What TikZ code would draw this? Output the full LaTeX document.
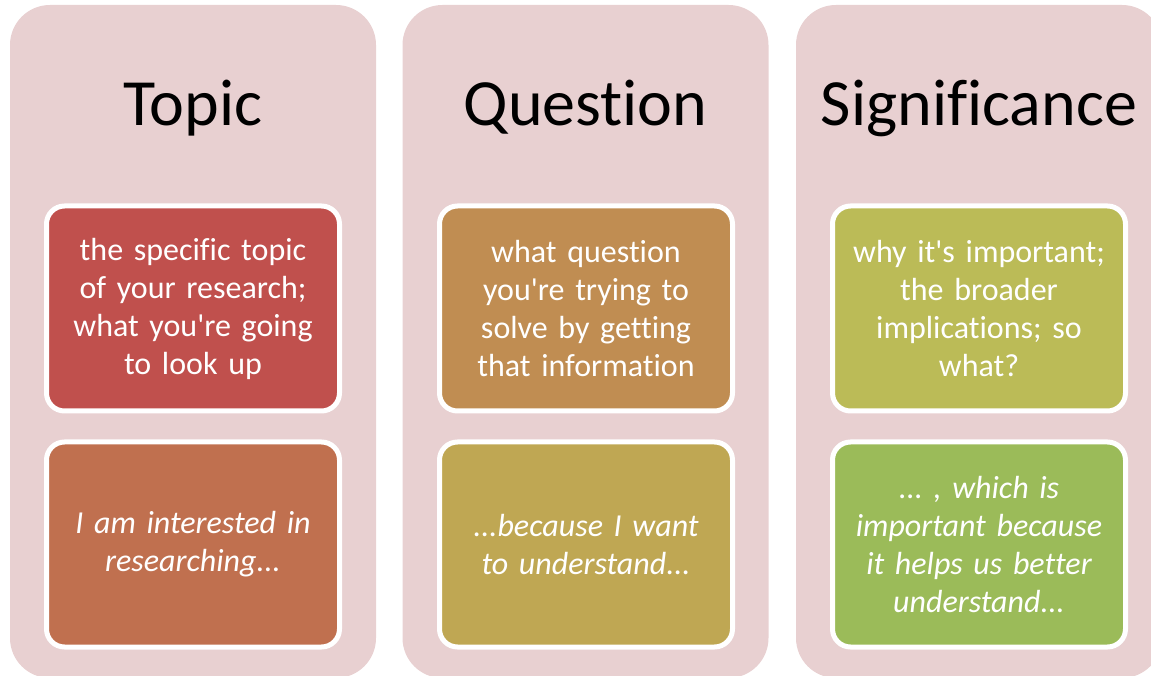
\documentclass[tikz,border=0pt]{standalone}
\usepackage{fontspec}
\setmainfont{Carlito}[Ligatures={TeXOff,NoCommon},Contextuals=NoAlternate]
\usetikzlibrary{positioning}
\frenchspacing
\definecolor{panepink}{HTML}{E8D0D1}
\definecolor{topicred}{HTML}{C0504D}
\definecolor{topicrust}{HTML}{C0704F}
\definecolor{questiontan}{HTML}{C08D52}
\definecolor{questionolive}{HTML}{BFA753}
\definecolor{signifolive}{HTML}{BBBB57}
\definecolor{signifgreen}{HTML}{9BBB59}
\tikzstyle{pane} = [fill=panepink, rounded corners=40pt, inner sep=0pt, minimum width=366pt, minimum height=673pt]
\tikzstyle{head} = [anchor=base, inner sep=0pt, font=\fontsize{66}{70}\selectfont]
\tikzstyle{card} = [draw=white, line width=5pt, rounded corners=18pt, inner sep=4pt, minimum width=293pt, minimum height=205pt, text width=285pt, align=center, text=white, font=\fontsize{32}{38}\selectfont]

\begin{document}
\begin{tikzpicture}[x=1pt,y=1pt]
  \useasboundingbox (0,0) rectangle (1151,675);
  % columns
  \node[pane] (topic) at (193,333.5) {};
  \node[pane] (question) at (585.5,333.5) {};
  \node[pane] (signif) at (979,333.5) {};
  \node[head] (topicT) at (193,549) {Topic};
  \node[head] (questionT) at (585.5,549) {Question};
  \node[head] (signifT) at (979,549) {Significance};
  % cards
  \node[card, fill=topicred] (topicA) at (193,366.5) {the specific topic\\of your research;\\what you're going\\to look up};
  \node[card, fill=topicrust, below=26pt of topicA] (topicB) {\itshape I am interested in\\researching...};
  \node[card, fill=questiontan] (questionA) at (586,366.5) {what question\\you're trying to\\solve by getting\\that information};
  \node[card, fill=questionolive, below=26pt of questionA] (questionB) {\itshape ...because I want\\to understand...};
  \node[card, fill=signifolive] (signifA) at (979,366.5) {why it's important;\\the broader\\implications; so\\what?};
  \node[card, fill=signifgreen, below=26pt of signifA] (signifB) {\itshape ... , which is\\important because\\it helps us better\\understand...};
\end{tikzpicture}
\end{document}
